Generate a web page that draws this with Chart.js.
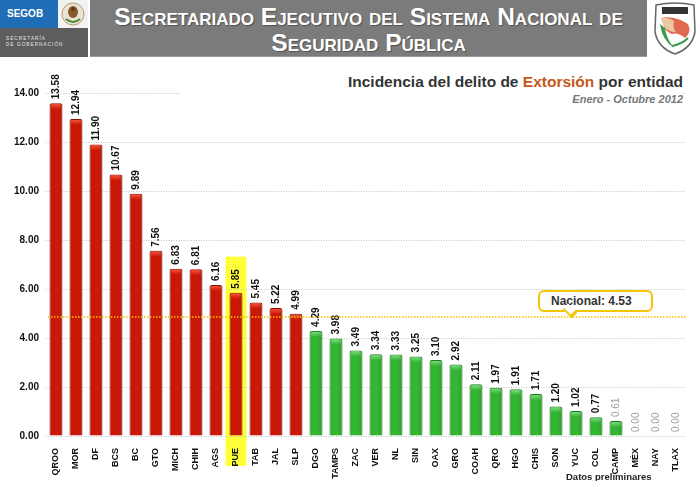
<!DOCTYPE html>
<html>
<head>
<meta charset="utf-8">
<script src="https://cdn.jsdelivr.net/npm/chart.js@4/dist/chart.umd.min.js"></script>
<style>
  html, body { margin: 0; padding: 0; background: #fff; }
  body { width: 700px; height: 481px; position: relative; overflow: hidden; font-family: "Liberation Sans", Arial, Helvetica, sans-serif; }
  #c { position: absolute; left: 0; top: 0; }
  .abs { position: absolute; }
  #segob { left: 0; top: 0; width: 58px; height: 28px; background: #1f6db4; color: #fff; font-weight: bold; font-size: 10px; line-height: 28px; padding-left: 7px; box-sizing: border-box; }
  #emblem { left: 58px; top: 0; width: 30px; height: 28px; background: #f2f2f2; }
  #secgob { left: 0; top: 28px; width: 88px; height: 29px; background: #5d5d5d; color: #e8e8e8; font-size: 4.6px; letter-spacing: 1.1px; line-height: 6px; padding: 8px 0 0 6px; box-sizing: border-box; }
  #banner { left: 90px; top: 0; width: 557px; height: 57px; background: #7b7b7b; border-bottom: 1px solid #9a9a9a; box-sizing: border-box; color: #fff; font-weight: bold; text-align: center; font-variant: small-caps; font-size: 24.5px; line-height: 26px; padding-top: 4px; text-shadow: 1px 1px 1px rgba(0,0,0,0.35); }
  #shield { left: 652px; top: 2px; width: 46px; height: 54px; }
  #titlebox { left: 180px; top: 73px; width: 503px; height: 36px; background: #fff; text-align: right; }
  #title { font-size: 15.5px; font-weight: bold; color: #333; line-height: 18px; }
  #title .ext { color: #c6561a; }
  #subtitle { font-size: 11px; font-weight: bold; font-style: italic; color: #777; line-height: 16px; }
  #nacional { left: 538px; top: 290px; width: 115px; height: 22px; border: 2px solid #f5c400; border-radius: 6px; box-sizing: border-box; background: #fff; font-size: 12px; font-weight: bold; color: #333; line-height: 18px; padding-left: 11px; }
  #nacional:after { content: ""; position: absolute; left: 26px; bottom: -5px; width: 8px; height: 8px; background: #fff; border-right: 2px solid #f5c400; border-bottom: 2px solid #f5c400; transform: rotate(45deg) scaleX(1.6); transform-origin: center; box-sizing: border-box; }
  #prelim { left: 566px; top: 471px; font-size: 9.5px; font-weight: bold; color: #222; }
</style>
</head>
<body>
<canvas id="c" width="700" height="481"></canvas>

<div id="segob" class="abs">SEGOB</div>
<div id="emblem" class="abs">
  <svg width="30" height="28" viewBox="0 0 30 28">
    <circle cx="15" cy="14" r="11" fill="#e9e4d8" stroke="#b59b6a" stroke-width="1"/>
    <ellipse cx="15" cy="12" rx="5" ry="6" fill="#8a5a2b"/>
    <path d="M8 19 Q15 25 22 19" stroke="#4d8a3a" stroke-width="2" fill="none"/>
    <circle cx="15" cy="9" r="2" fill="#5a3a1a"/>
  </svg>
</div>
<div id="secgob" class="abs">SECRETARÍA<br>DE GOBERNACIÓN</div>
<div id="banner" class="abs">Secretariado Ejecutivo del Sistema Nacional de<br>Seguridad Pública</div>
<div id="shield" class="abs">
  <svg width="46" height="54" viewBox="0 0 46 54">
    <path d="M4 3 Q23 -1 42 3 L43 30 Q40 46 23 52 Q6 46 3 30 Z" fill="#fff" stroke="#666" stroke-width="1.5"/>
    <rect x="10" y="5" width="26" height="7" fill="#333"/>
    <path d="M9 16 Q22 13 36 22 Q40 30 33 36 Q26 30 20 32 Q14 30 12 24 Z" fill="#e06a50"/>
    <path d="M9 16 Q16 15 22 19 Q20 26 24 30 Q16 30 12 24 Z" fill="#e8c9a4"/>
    <path d="M8 22 Q10 38 22 46 Q14 36 13 26 Z" fill="#3b9a4a"/>
    <path d="M20 44 Q30 42 36 36" stroke="#3b9a4a" stroke-width="2" fill="none"/>
  </svg>
</div>
<div id="titlebox" class="abs">
  <div id="title">Incidencia del delito de <span class="ext">Extorsión</span> por entidad</div>
  <div id="subtitle">Enero - Octubre 2012</div>
</div>
<div id="nacional" class="abs">Nacional: 4.53</div>
<div id="prelim" class="abs">Datos preliminares</div>

<script>
// ---- data ----
const categories = ['QROO','MOR','DF','BCS','BC','GTO','MICH','CHIH','AGS','PUE','TAB','JAL','SLP','DGO','TAMPS','ZAC','VER','NL','SIN','OAX','GRO','COAH','QRO','HGO','CHIS','SON','YUC','COL','CAMP','MÉX','NAY','TLAX'];
const values = [13.58,12.94,11.90,10.67,9.89,7.56,6.83,6.81,6.16,5.85,5.45,5.22,4.99,4.29,3.98,3.49,3.34,3.33,3.25,3.10,2.92,2.11,1.97,1.91,1.71,1.20,1.02,0.77,0.61,0.00,0.00,0.00];
const yTicks = [0,2,4,6,8,10,12,14];
const nacional = 4.53;
const nacionalLinePos = 4.86; // where the dotted reference line is drawn in the picture
const highlightCategory = 'PUE';

// ---- styling ----
const RED = '#cc1200', RED_B = '#8e0d00', RED_L = '#ff5a3c';
const GREEN = '#2fb52f', GREEN_B = '#1d7a1d', GREEN_L = '#86e486';
const isRed = v => v > nacional;

const highlightPlugin = {
  id: 'highlight',
  beforeDraw(chart) {
    const idx = categories.indexOf(highlightCategory);
    const el = chart.getDatasetMeta(0).data[idx];
    if (!el) return;
    const ctx = chart.ctx;
    ctx.save();
    ctx.fillStyle = '#ffff3a';
    ctx.fillRect(el.x - 10.5, el.y - 36, 21, chart.chartArea.bottom + 30 - (el.y - 36));
    ctx.restore();
  }
};

const decoPlugin = {
  id: 'deco',
  afterDatasetsDraw(chart) {
    const ctx = chart.ctx;
    const meta = chart.getDatasetMeta(0);
    meta.data.forEach((el, i) => {
      const v = values[i];
      const w = el.width;
      if (v > 0) {
        ctx.save();
        const g = ctx.createLinearGradient(0, el.y, 0, el.y + 6);
        g.addColorStop(0, isRed(v) ? RED_L : GREEN_L);
        g.addColorStop(1, isRed(v) ? RED : GREEN);
        ctx.fillStyle = g;
        ctx.fillRect(el.x - w / 2 + 1.5, el.y + 1, w - 3, 5);
        const sg = ctx.createLinearGradient(el.x - w / 2, 0, el.x + w / 2, 0);
        sg.addColorStop(0, 'rgba(0,0,0,0.10)');
        sg.addColorStop(0.35, 'rgba(255,255,255,0.0)');
        sg.addColorStop(1, 'rgba(0,0,0,0.16)');
        ctx.fillStyle = sg;
        ctx.fillRect(el.x - w / 2 + 1, el.y + 1, w - 2, el.base - el.y - 1);
        ctx.restore();
      }
      ctx.save();
      ctx.translate(el.x, el.y - 4);
      ctx.rotate(-Math.PI / 2);
      const faint = v < 0.7;
      ctx.font = (faint ? '' : 'bold ') + '10px "Liberation Sans", Arial, sans-serif';
      ctx.fillStyle = faint ? '#9a9a9a' : '#111';
      ctx.textAlign = 'left';
      ctx.textBaseline = 'middle';
      ctx.fillText(v.toFixed(2), 0, 0);
      ctx.restore();
    });
    const y = chart.scales.y.getPixelForValue(nacionalLinePos);
    ctx.save();
    ctx.strokeStyle = '#f2c200';
    ctx.lineWidth = 1.5;
    ctx.setLineDash([1.5, 1.5]);
    ctx.beginPath();
    ctx.moveTo(chart.chartArea.left + 2, y);
    ctx.lineTo(chart.chartArea.right, y);
    ctx.stroke();
    ctx.restore();
  }
};

new Chart(document.getElementById('c'), {
  type: 'bar',
  data: {
    labels: categories,
    datasets: [{
      data: values,
      backgroundColor: values.map(v => isRed(v) ? RED : GREEN),
      borderColor: values.map(v => isRed(v) ? RED_B : GREEN_B),
      borderWidth: 1,
      borderRadius: { topLeft: 2, topRight: 2 },
      borderSkipped: 'bottom',
      barPercentage: 0.65,
      categoryPercentage: 1.0
    }]
  },
  options: {
    responsive: false,
    animation: false,
    layout: { padding: { top: 93, right: 14, left: 0, bottom: 0 } },
    plugins: { legend: { display: false }, tooltip: { enabled: false }, title: { display: false } },
    scales: {
      x: {
        grid: { display: false },
        border: { display: false },
        ticks: {
          autoSkip: false, minRotation: 90, maxRotation: 90, padding: 4,
          color: '#111', font: { family: '"Liberation Sans", Arial, sans-serif', size: 9, weight: 'bold' }
        },
        afterFit(s) { s.height = 45; }
      },
      y: {
        min: 0, max: 14,
        afterBuildTicks(s) { s.ticks = yTicks.map(v => ({ value: v })); },
        grid: { color: '#c4c4c4', drawTicks: false, lineWidth: 1 },
        border: { display: false, dash: [1, 1.5] },
        ticks: {
          padding: 7, color: '#111',
          font: { family: '"Liberation Sans", Arial, sans-serif', size: 10, weight: 'bold' },
          callback: v => Number(v).toFixed(2)
        },
        afterFit(s) { s.width = 46; }
      }
    }
  },
  plugins: [highlightPlugin, decoPlugin]
});
</script>
</body>
</html>
